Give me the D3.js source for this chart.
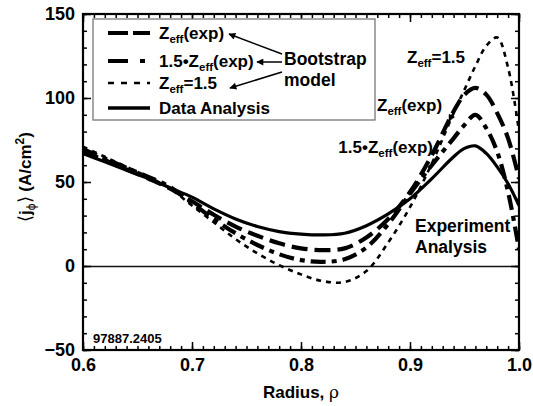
<!DOCTYPE html>
<html><head><meta charset="utf-8">
<script src="https://cdn.jsdelivr.net/npm/d3@7"></script>
<style>
body{margin:0;background:#fff;}
svg{display:block;font-family:"Liberation Sans",Arial,Helvetica,sans-serif;}
</style></head>
<body><svg id="c" width="533" height="406"></svg>
<script>
// ---- data ----
const rho = [0.60,0.62,0.64,0.66,0.68,0.70,0.72,0.74,0.76,0.78,0.80,0.82,0.84,0.86,0.88,0.90,0.92,0.94,0.95,0.96,0.97,0.98,0.99,1.00];
const dataAnalysis = [67,62,57,52,46.5,41,34,28,23.5,20.5,19,18.5,19.5,24,31,40,52,65,70,71.5,67,59,49,36];
const zeffExp      = [68,63,57.5,52,46,38.5,30.5,23.5,18,13.5,10.5,9.5,10.5,17,28,44,66,92,102,106,102,91,76,52];
const zeff15xExp   = [69.5,64,58.5,53,47,37.5,28,19.5,12.5,7,3.5,2.5,4,11,25,43,60,76,84,90,82,68,44,10];
const zeff15       = [71,65,59,53,46,36,26,16,7.5,0.5,-5,-9,-9.5,-3,14,35,61,91,105,119,131,136,118,80];
const xTicks = [0.6,0.7,0.8,0.9,1.0];
const xTickLabels = ["0.6","0.7","0.8","0.9","1.0"];
const yTicks = [-50,0,50,100,150];
const yTickLabels = ["\u221250","0","50","100","150"];
const shotLabel = "97887.2405";

// ---- layout ----
const svg = d3.select("#c");
const L=83, R=519, T=14, B=350;
const x = d3.scaleLinear().domain([0.6,1.0]).range([L,R]);
const y = d3.scaleLinear().domain([-50,150]).range([B,T]);

const styles = {
  zeffExp:   {w:4.2, dash:"16,7"},
  zeff15x:   {w:4.2, dash:"15,6,5,6"},
  zeff15:    {w:2.6, dash:"5,5"},
  data:      {w:3.2, dash:null}
};

svg.append("clipPath").attr("id","clip").append("rect").attr("x",L).attr("y",T).attr("width",R-L).attr("height",B-T);

// zero line
svg.append("line").attr("x1",L).attr("x2",R).attr("y1",y(0)+0.5).attr("y2",y(0)+0.5).attr("stroke","#111").attr("stroke-width",1.4);

// curves
const line = d3.line().x((d,i)=>x(rho[i])).y(d=>y(d)).curve(d3.curveCatmullRom.alpha(0.5));
const g = svg.append("g").attr("clip-path","url(#clip)");
function drawCurve(vals, st){
  g.append("path").attr("d",line(vals)).attr("fill","none").attr("stroke","#000")
   .attr("stroke-width",st.w).attr("stroke-dasharray",st.dash).attr("stroke-linejoin","round");
}
drawCurve(zeff15, styles.zeff15);
drawCurve(zeff15xExp, styles.zeff15x);
drawCurve(zeffExp, styles.zeffExp);
drawCurve(dataAnalysis, styles.data);

// axes (inward ticks)
const xMinor = d3.range(60,101).map(v=>v/100);
const yMinor = d3.range(-50,151,10);
function styleAxis(sel){
  sel.select(".domain").remove();
  sel.selectAll("line").attr("stroke","#000").attr("stroke-width",1.5);
}
const fmtX = (d)=>xTickLabels[xTicks.findIndex(t=>Math.abs(t-d)<1e-9)];
const fmtY = (d)=>yTickLabels[yTicks.indexOf(d)];
function styleLabels(sel){
  sel.selectAll("text").attr("font-size",18).attr("font-weight","bold").attr("fill","#000").attr("font-family","Liberation Sans, Arial, sans-serif");
}

svg.append("g").attr("transform",`translate(0,${B})`).call(d3.axisBottom(x).tickValues(xMinor).tickSizeInner(-4).tickSizeOuter(0).tickFormat("")).call(styleAxis);
svg.append("g").attr("transform",`translate(0,${B})`).call(d3.axisBottom(x).tickValues(xTicks).tickSizeInner(-8).tickSizeOuter(0).tickPadding(8).tickFormat(fmtX)).call(styleAxis).call(styleLabels);
svg.append("g").attr("transform",`translate(0,${T})`).call(d3.axisTop(x).tickValues(xMinor).tickSizeInner(-4).tickSizeOuter(0).tickFormat("")).call(styleAxis);
svg.append("g").attr("transform",`translate(0,${T})`).call(d3.axisTop(x).tickValues(xTicks).tickSizeInner(-8).tickSizeOuter(0).tickFormat("")).call(styleAxis);

svg.append("g").attr("transform",`translate(${L},0)`).call(d3.axisLeft(y).tickValues(yMinor).tickSizeInner(-4).tickSizeOuter(0).tickFormat("")).call(styleAxis);
svg.append("g").attr("transform",`translate(${L},0)`).call(d3.axisLeft(y).tickValues(yTicks).tickSizeInner(-8).tickSizeOuter(0).tickPadding(8).tickFormat(fmtY)).call(styleAxis).call(styleLabels);
svg.append("g").attr("transform",`translate(${R},0)`).call(d3.axisRight(y).tickValues(yMinor).tickSizeInner(-4).tickSizeOuter(0).tickFormat("")).call(styleAxis);
svg.append("g").attr("transform",`translate(${R},0)`).call(d3.axisRight(y).tickValues(yTicks).tickSizeInner(-8).tickSizeOuter(0).tickFormat("")).call(styleAxis);

// frame
svg.append("rect").attr("x",L).attr("y",T).attr("width",R-L).attr("height",B-T).attr("fill","none").attr("stroke","#000").attr("stroke-width",2.2);

// axis titles
svg.append("text").attr("x",(L+R)/2).attr("y",398).attr("text-anchor","middle").attr("font-size",17).attr("font-weight","bold")
  .text("Radius, ").append("tspan").attr("font-weight","normal").attr("font-family","DejaVu Serif, serif").attr("font-size",17).text("\u03C1");

const yt = svg.append("text").attr("transform","translate(31,177) rotate(-90)").attr("text-anchor","middle").attr("font-size",17).attr("font-weight","bold");
yt.append("tspan").attr("font-weight","normal").attr("font-size",18).text("\u27E8");
yt.append("tspan").text("j");
yt.append("tspan").attr("font-size",12).attr("dy",4).attr("font-weight","normal").text("\u03D5");
yt.append("tspan").attr("dy",-4).attr("font-weight","normal").attr("font-size",18).text("\u27E9");
yt.append("tspan").text(" (A/cm");
yt.append("tspan").attr("font-size",12).attr("dy",-7).text("2");
yt.append("tspan").attr("dy",7).text(")");

// helper for Z_eff labels
function zLabel(sel, pre, post){
  if(pre) sel.append("tspan").text(pre);
  sel.append("tspan").text("Z");
  sel.append("tspan").attr("font-size",11.5).attr("dy",4).text("eff");
  sel.append("tspan").attr("dy",-4).text(post);
}
const FS = 17;

// legend
svg.append("rect").attr("x",93).attr("y",19).attr("width",282).attr("height",101).attr("fill","#fff").attr("stroke","#777").attr("stroke-width",1.3);
const legendRows = [
  {yc:33, st:{w:4.2,dash:"20,5"}, pre:"", post:"(exp)"},
  {yc:61, st:{w:4.2,dash:"20,12,5,50"}, pre:"1.5\u2022", post:"(exp)"},
  {yc:83, st:{w:2.6,dash:"6,7"}, pre:"", post:"=1.5"},
  {yc:108, st:{w:3.4,dash:null}, text:"Data Analysis"}
];
legendRows.forEach(r=>{
  svg.append("line").attr("x1",108).attr("x2",150).attr("y1",r.yc).attr("y2",r.yc).attr("stroke","#000").attr("stroke-width",r.st.w).attr("stroke-dasharray",r.st.dash);
  const t = svg.append("text").attr("x",159).attr("y",r.yc+6).attr("font-size",FS).attr("font-weight","bold");
  if(r.text) t.text(r.text); else zLabel(t, r.pre, r.post);
});
svg.append("text").attr("x",284).attr("y",65).attr("font-size",FS+0.5).attr("font-weight","bold").text("Bootstrap");
svg.append("text").attr("x",284).attr("y",86).attr("font-size",FS+0.5).attr("font-weight","bold").text("model");

// arrows
const defs = svg.append("defs");
defs.append("marker").attr("id","ah").attr("viewBox","0 0 10 10").attr("refX",9).attr("refY",5)
  .attr("markerWidth",9).attr("markerHeight",7).attr("markerUnits","userSpaceOnUse").attr("orient","auto")
  .append("path").attr("d","M0,0 L10,5 L0,10 Z").attr("fill","#000");
const arrows = [[282,54,229,34],[282,62,257,62],[282,72,230,88],[458,104,449,121]];
arrows.forEach(a=>{
  svg.append("line").attr("x1",a[0]).attr("y1",a[1]).attr("x2",a[2]).attr("y2",a[3]).attr("stroke","#000").attr("stroke-width",1.5).attr("marker-end","url(#ah)");
});

// curve annotations
zLabel(svg.append("text").attr("x",407).attr("y",63).attr("font-size",FS).attr("font-weight","bold"), "", "=1.5");
zLabel(svg.append("text").attr("x",377).attr("y",111).attr("font-size",FS).attr("font-weight","bold"), "", "(exp)");
zLabel(svg.append("text").attr("x",433).attr("y",153).attr("text-anchor","end").attr("font-size",FS).attr("font-weight","bold"), "1.5\u2022", "(exp)");
svg.append("text").attr("x",415).attr("y",232).attr("font-size",FS+0.5).attr("font-weight","bold").text("Experiment");
svg.append("text").attr("x",415).attr("y",253).attr("font-size",FS+0.5).attr("font-weight","bold").text("Analysis");

svg.append("text").attr("x",93).attr("y",343).attr("font-size",13).attr("font-weight","bold").text(shotLabel);
</script></body></html>
